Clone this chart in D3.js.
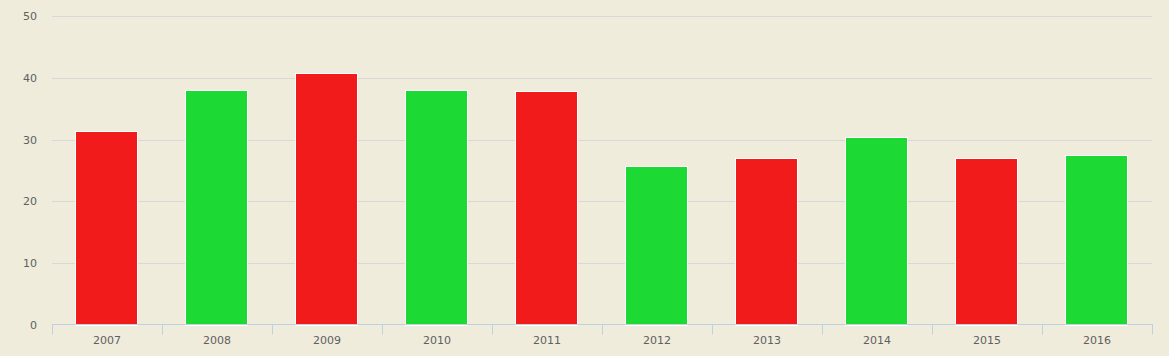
<!DOCTYPE html>
<html><head><meta charset="utf-8">
<script src="https://cdn.jsdelivr.net/npm/d3@7"></script>
<style>html,body{margin:0;padding:0;background:#efecdc;}svg{display:block;}</style>
</head><body>
<svg id="c" width="1169" height="356"></svg>
<script>
const categories = ["2007","2008","2009","2010","2011","2012","2013","2014","2015","2016"];
const values = [31.4, 38.1, 40.7, 38.0, 37.8, 25.7, 27.0, 30.4, 27.1, 27.5];
const colors = ["#f21b1b","#1cd934","#f21b1b","#1cd934","#f21b1b","#1cd934","#f21b1b","#1cd934","#f21b1b","#1cd934"];
const yTicks = [0,10,20,30,40,50];

(function(){
const svg = d3.select("#c");
const pL = 52, pR = 1152, pT = 16, pB = 325;
const x = d3.scaleBand().domain(categories).range([pL, pR]).paddingInner(0).paddingOuter(0);
const y = d3.scaleLinear().domain([0,50]).range([pB, pT]);
const font = "'DejaVu Sans', Verdana, sans-serif";

// grid
svg.append("g").selectAll("line").data(yTicks.slice(1)).join("line")
  .attr("x1", pL).attr("x2", pR)
  .attr("y1", d => Math.round(y(d)) + 0.5).attr("y2", d => Math.round(y(d)) + 0.5)
  .attr("stroke", "#d8d8d8").attr("stroke-width", 1);

// y labels
svg.append("g").selectAll("text").data(yTicks).join("text")
  .attr("x", 37).attr("y", d => y(d) + 4)
  .attr("text-anchor", "end").attr("font-family", font).attr("font-size", 11)
  .attr("fill", "#606060").text(d => d);

// bars
const bw = 62;
svg.append("g").selectAll("rect").data(values).join("rect")
  .attr("x", (d,i) => Math.round(x(categories[i]) + x.bandwidth()/2 - bw/2) - 0.5)
  .attr("y", d => Math.round(y(d)) + 0.5)
  .attr("width", bw)
  .attr("height", d => Math.round(y(0)) - Math.round(y(d)))
  .attr("fill", (d,i) => colors[i])
  .attr("stroke", "#ffffff").attr("stroke-width", 1);

// x axis
const ax = svg.append("g").attr("transform", `translate(0,${pB - 0.5})`);
ax.append("line").attr("x1", pL).attr("x2", pR + 1).attr("y1", 0).attr("y2", 0)
  .attr("stroke", "#c0d0e0").attr("stroke-width", 1);
const tickPos = categories.map(c => x(c)).concat([pR]);
ax.selectAll("line.t").data(tickPos).join("line").attr("class","t")
  .attr("x1", d => Math.round(d) + 0.5).attr("x2", d => Math.round(d) + 0.5)
  .attr("y1", 0).attr("y2", 10).attr("stroke", "#c0d0e0");
ax.selectAll("text").data(categories).join("text")
  .attr("x", d => x(d) + x.bandwidth()/2).attr("y", 19)
  .attr("text-anchor", "middle").attr("font-family", font).attr("font-size", 11)
  .attr("fill", "#606060").text(d => d);
})();
</script>
</body></html>
